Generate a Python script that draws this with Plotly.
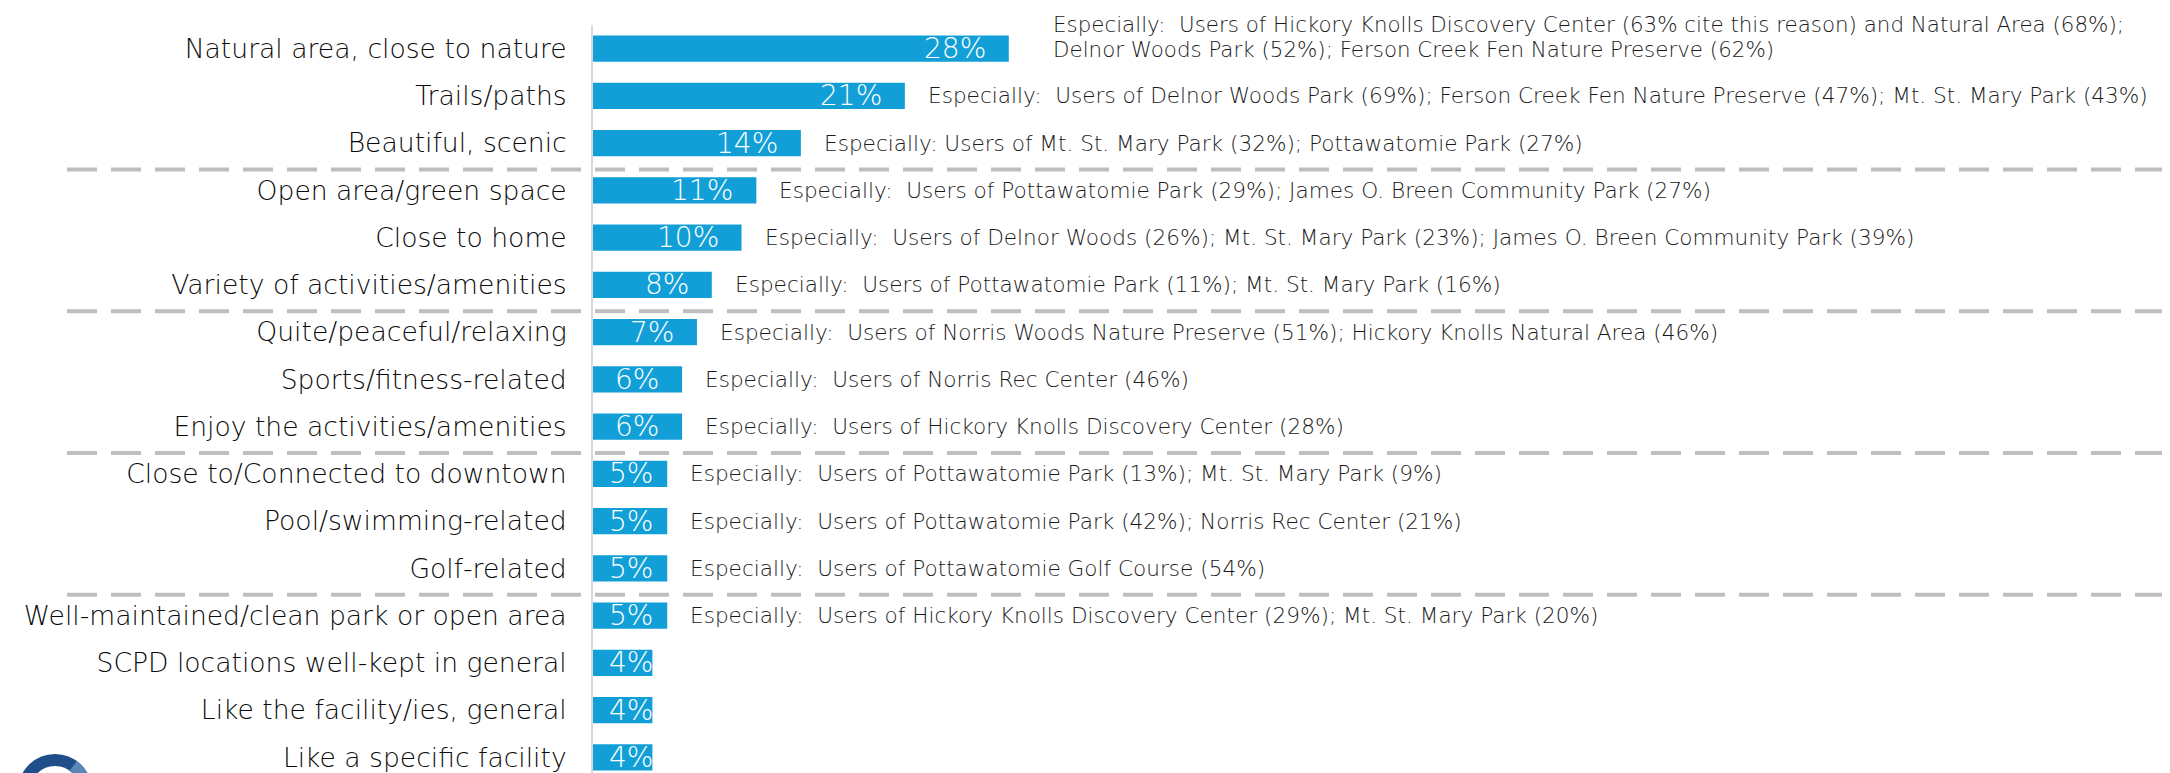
import numpy as np
import plotly.graph_objects as go

categories = [
    "Natural area, close to nature",
    "Trails/paths",
    "Beautiful, scenic",
    "Open area/green space",
    "Close to home",
    "Variety of activities/amenities",
    "Quite/peaceful/relaxing",
    "Sports/fitness-related",
    "Enjoy the activities/amenities",
    "Close to/Connected to downtown",
    "Pool/swimming-related",
    "Golf-related",
    "Well-maintained/clean park or open area",
    "SCPD locations well-kept in general",
    "Like the facility/ies, general",
    "Like a specific facility",
]
values = [28, 21, 14, 11, 10, 8, 7, 6, 6, 5, 5, 5, 5, 4, 4, 4]
value_labels = [f"{v}%" for v in values]

NB = "\u00a0"
notes = [
    [f"Especially:{NB} Users of Hickory Knolls Discovery Center (63% cite this reason) and Natural Area (68%);",
     "Delnor Woods Park (52%); Ferson Creek Fen Nature Preserve (62%)"],
    [f"Especially:{NB} Users of Delnor Woods Park (69%); Ferson Creek Fen Nature Preserve (47%); Mt. St. Mary Park (43%)"],
    ["Especially: Users of Mt. St. Mary Park (32%); Pottawatomie Park (27%)"],
    [f"Especially:{NB} Users of Pottawatomie Park (29%); James O. Breen Community Park (27%)"],
    [f"Especially:{NB} Users of Delnor Woods (26%); Mt. St. Mary Park (23%); James O. Breen Community Park (39%)"],
    [f"Especially:{NB} Users of Pottawatomie Park (11%); Mt. St. Mary Park (16%)"],
    [f"Especially:{NB} Users of Norris Woods Nature Preserve (51%); Hickory Knolls Natural Area (46%)"],
    [f"Especially:{NB} Users of Norris Rec Center (46%)"],
    [f"Especially:{NB} Users of Hickory Knolls Discovery Center (28%)"],
    [f"Especially:{NB} Users of Pottawatomie Park (13%); Mt. St. Mary Park (9%)"],
    [f"Especially:{NB} Users of Pottawatomie Park (42%); Norris Rec Center (21%)"],
    [f"Especially:{NB} Users of Pottawatomie Golf Course (54%)"],
    [f"Especially:{NB} Users of Hickory Knolls Discovery Center (29%); Mt. St. Mary Park (20%)"],
    [], [], [],
]
group_breaks = [2.56, 5.56, 8.56, 11.56]

# The page body has an 8px margin, so figure pixels are offset from screen pixels.
OFF = 8
W, H = 2170, 773
ML, MT, MB, MR = 593 - OFF, 25 - OFF, 0, 0
PW, PH = W - ML - MR, H - MT - MB
PX_PER_UNIT = 14.85
PITCH = 47.25

FONT = "DejaVu Sans, Segoe UI, Open Sans, sans-serif"
BAR_COLOR = "#129FD7"
NOTE_SIZE = 21.6

fig = go.Figure()
fig.add_trace(go.Bar(
    y=categories, x=values, orientation="h",
    marker=dict(color=BAR_COLOR, line=dict(width=0)),
    width=0.56, hoverinfo="skip",
))

annotations = []
for cat, v, lab, note in zip(categories, values, value_labels, notes):
    if v >= 6:
        annotations.append(dict(x=v, y=cat, xref="x", yref="y", text=lab, showarrow=False,
                                xanchor="right", xshift=-21,
                                font=dict(family=FONT, size=28, color="white", weight=300)))
    else:
        annotations.append(dict(x=0, y=cat, xref="x", yref="y", text=lab, showarrow=False,
                                xanchor="left", xshift=14,
                                font=dict(family=FONT, size=28, color="white", weight=300)))
    if len(note) == 1:
        annotations.append(dict(x=v, y=cat, xref="x", yref="y", text=note[0], showarrow=False,
                                xanchor="left", align="left", xshift=21,
                                font=dict(family=FONT, size=NOTE_SIZE, color="#1A1A1A", weight=300)))
    elif len(note) == 2:
        for k, line in enumerate(note):
            annotations.append(dict(x=v, y=cat, xref="x", yref="y", text=line, showarrow=False,
                                    xanchor="left", align="left", xshift=42,
                                    yshift=24 - 25 * k,
                                    font=dict(family=FONT, size=21.4, color="#1A1A1A", weight=300)))

def px_to_paper(px, py):
    """screen pixel -> paper coords"""
    fx, fy = px - OFF, py - OFF
    return (fx - ML) / PW, (H - MB - fy) / PH

shapes = []
x0p, _ = px_to_paper(67, 0)
for b in group_breaks:
    shapes.append(dict(type="line", xref="paper", yref="y", x0=x0p, x1=1, y0=b, y1=b,
                       line=dict(color="#BFBFBF", width=4, dash="30px,14px")))

# logo (partial ring at bottom-left)
cx, cy, r = 55, 791, 31
ax0, ay0 = px_to_paper(cx - r, cy + r)
ax1, ay1 = px_to_paper(cx + r, cy - r)
shapes.append(dict(type="circle", xref="paper", yref="paper", x0=ax0, y0=ay0, x1=ax1, y1=ay1,
                   line=dict(color="#1F4E8A", width=12)))
ang = np.linspace(np.radians(36), np.radians(110), 30)
pts = [px_to_paper(cx + r * np.sin(a), cy - r * np.cos(a)) for a in ang]
path = "M " + " L ".join(f"{p[0]:.5f},{p[1]:.5f}" for p in pts)
shapes.append(dict(type="path", xref="paper", yref="paper", path=path,
                   line=dict(color="#5B86B5", width=12)))

fig.update_layout(
    width=W, height=H,
    margin=dict(l=ML, r=MR, t=MT, b=MB, pad=0, autoexpand=False),
    paper_bgcolor="white", plot_bgcolor="white",
    showlegend=False,
    bargap=0.44,
    xaxis=dict(visible=False, range=[0, PW / PX_PER_UNIT], fixedrange=True, automargin=False),
    yaxis=dict(type="category", categoryorder="array", categoryarray=categories,
               range=[-0.5 + PH / PITCH, -0.5], automargin=False,
               showline=True, linecolor="#D9D9D9", linewidth=2,
               showgrid=False, zeroline=False, ticks="",
               ticklabelstandoff=19,
               tickfont=dict(family=FONT, size=26.6, color="#0A0A0A", weight=300)),
    annotations=annotations,
    shapes=shapes,
)

fig.write_html("out.html")
